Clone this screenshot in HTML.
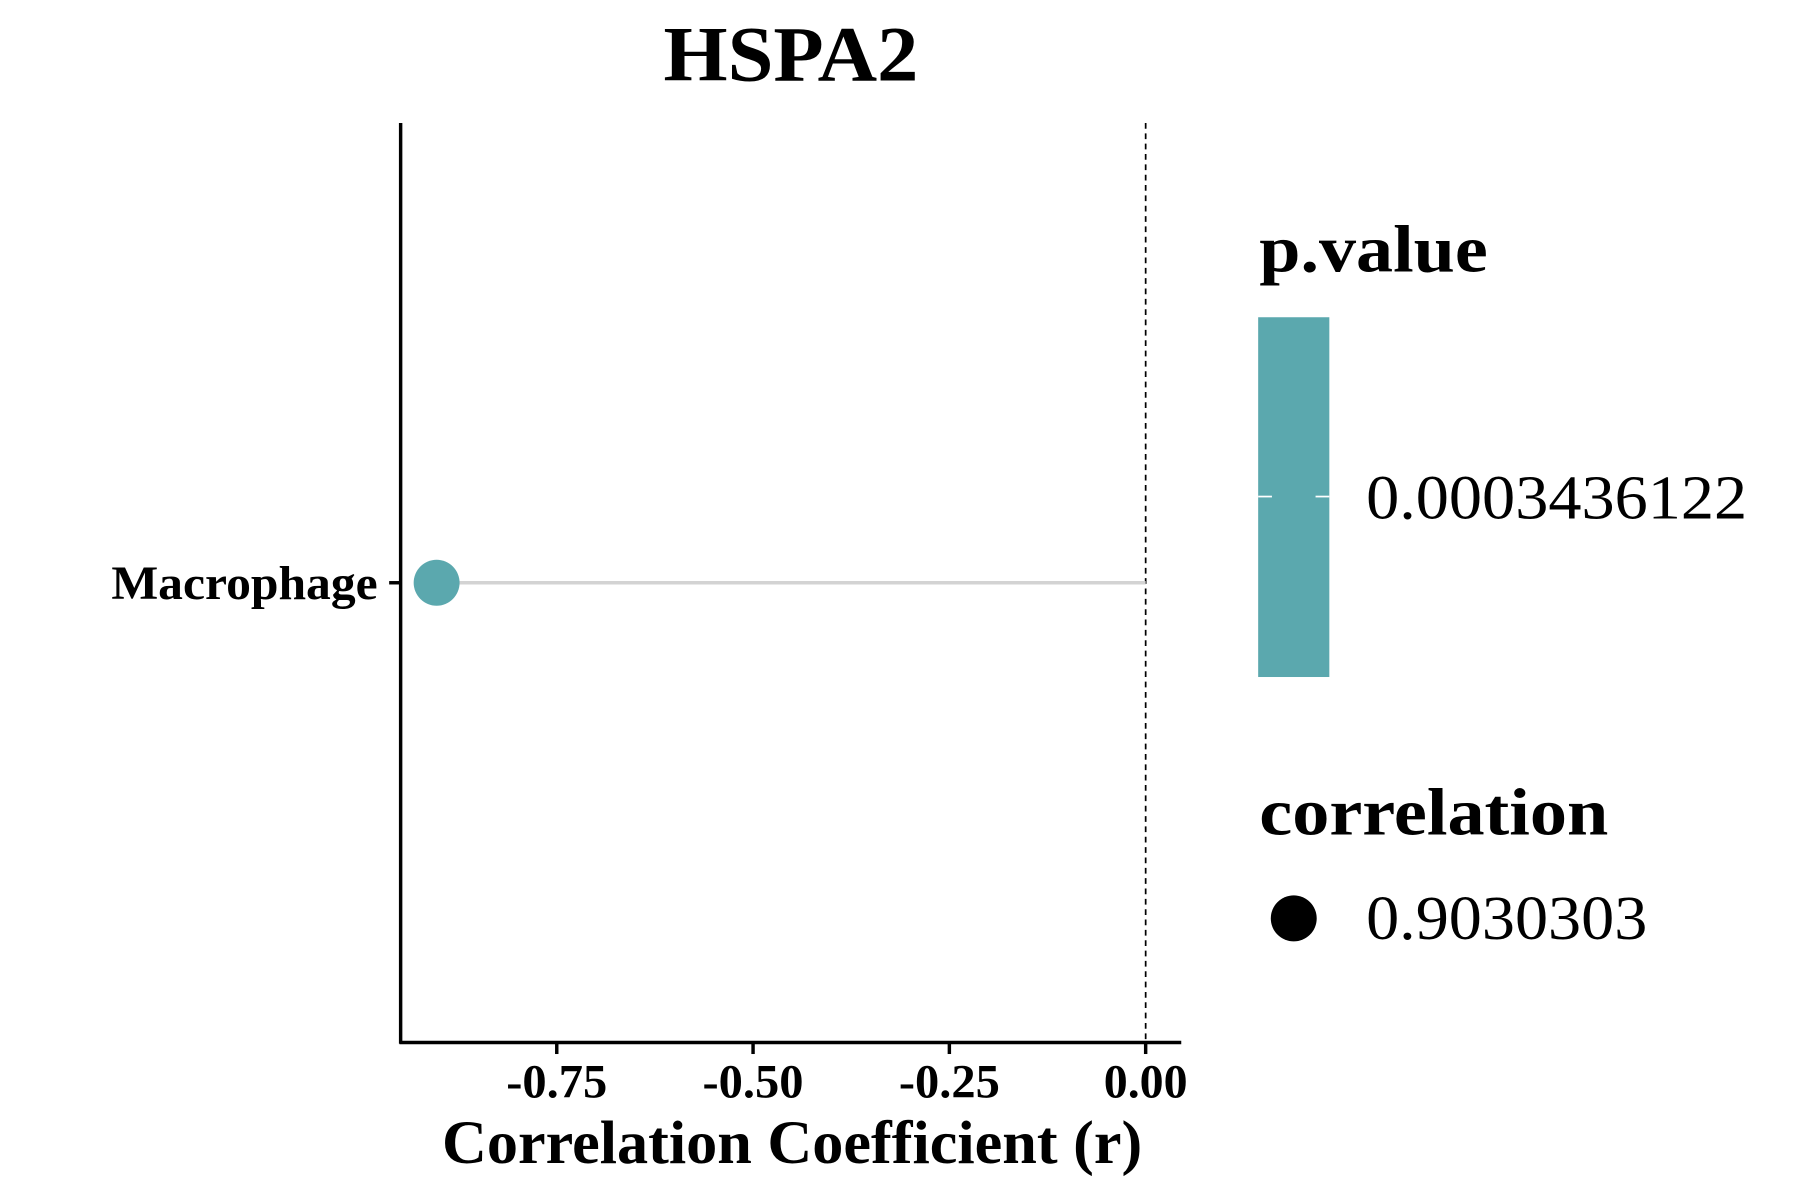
<!DOCTYPE html>
<html><head><meta charset="utf-8"><style>
html,body{margin:0;padding:0;background:#fff;}
svg{display:block;font-family:"Liberation Serif",serif;}
</style></head><body>
<svg id="chart" width="1800" height="1200" viewBox="0 0 1568 1044" preserveAspectRatio="none" xmlns="http://www.w3.org/2000/svg">
<text x="689" y="70" text-anchor="middle" font-size="68" font-weight="bold" textLength="222" lengthAdjust="spacingAndGlyphs">HSPA2</text>
<g id="plot"></g>
<text x="690" y="1012" text-anchor="middle" font-size="53" font-weight="bold" textLength="610" lengthAdjust="spacingAndGlyphs">Correlation Coefficient (r)</text>
<g>
<text x="1097" y="236" font-size="58" font-weight="bold" textLength="199" lengthAdjust="spacingAndGlyphs">p.value</text>
<rect x="1096" y="276" width="62" height="313" fill="#5ba8ae"/>
<line x1="1096" y1="432" x2="1108" y2="432" stroke="#fff" stroke-width="1.5"/>
<line x1="1146" y1="432" x2="1158" y2="432" stroke="#fff" stroke-width="1.5"/>
<text x="1190" y="451" font-size="54" textLength="332" lengthAdjust="spacingAndGlyphs">0.0003436122</text>
</g>
<g>
<text x="1097" y="726" font-size="58" font-weight="bold" textLength="304" lengthAdjust="spacingAndGlyphs">correlation</text>
<circle cx="1127" cy="799" r="20" fill="#000"/>
<text x="1190" y="817" font-size="54" textLength="245" lengthAdjust="spacingAndGlyphs">0.9030303</text>
</g>
</svg>
<script>
const categories = ["Macrophage"];
const correlations = [-0.903];
const xTicks = [-0.75, -0.5, -0.25, 0];
const xTickLabels = ["-0.75", "-0.50", "-0.25", "0.00"];

const NS = "http://www.w3.org/2000/svg";
const g = document.getElementById("plot");
const x = v => 998 + v * 684;
const y = i => 507 + i * 0;
function mk(t, a) { const e = document.createElementNS(NS, t); for (const k in a) e.setAttribute(k, a[k]); g.appendChild(e); return e; }

let e = mk("line", {x1: x(0), y1: 107, x2: x(0), y2: 907, stroke: "#000", "stroke-width": 1.5, "stroke-dasharray": "5,4"});



categories.forEach((c, i) => {
  const s = mk("line", {x1: x(correlations[i]), y1: y(i), x2: x(0), y2: y(i), stroke: "#d3d3d3", "stroke-width": 3});
  
  
  const d = mk("circle", {cx: x(correlations[i]), cy: y(i), r: 20, fill: "#5ba8ae"});
  
  
  const tk = mk("line", {x1: 339, y1: y(i), x2: 349, y2: y(i), stroke: "#000", "stroke-width": 3});
  
  
  const l = mk("text", {x: 329, y: y(i) + 14, "text-anchor": "end", "font-size": 41, "font-weight": "bold", textLength: 232, lengthAdjust: "spacingAndGlyphs"});
  l.textContent = c;
  
  
});

e = mk("line", {x1: 349, y1: 107, x2: 349, y2: 908, stroke: "#000", "stroke-width": 3});


e = mk("line", {x1: 348, y1: 907, x2: 1029, y2: 907, stroke: "#000", "stroke-width": 3});



xTicks.forEach((v, i) => {
  const t = mk("line", {x1: x(v), y1: 907, x2: x(v), y2: 917, stroke: "#000", "stroke-width": 3});
  
  
  const w = xTickLabels[i].charAt(0) === "-" ? 88 : 73;
  const l = mk("text", {x: x(v), y: 955, "text-anchor": "middle", "font-size": 41, "font-weight": "bold", textLength: w, lengthAdjust: "spacingAndGlyphs"});
  l.textContent = xTickLabels[i];
  
  
});
</script>
</body></html>
